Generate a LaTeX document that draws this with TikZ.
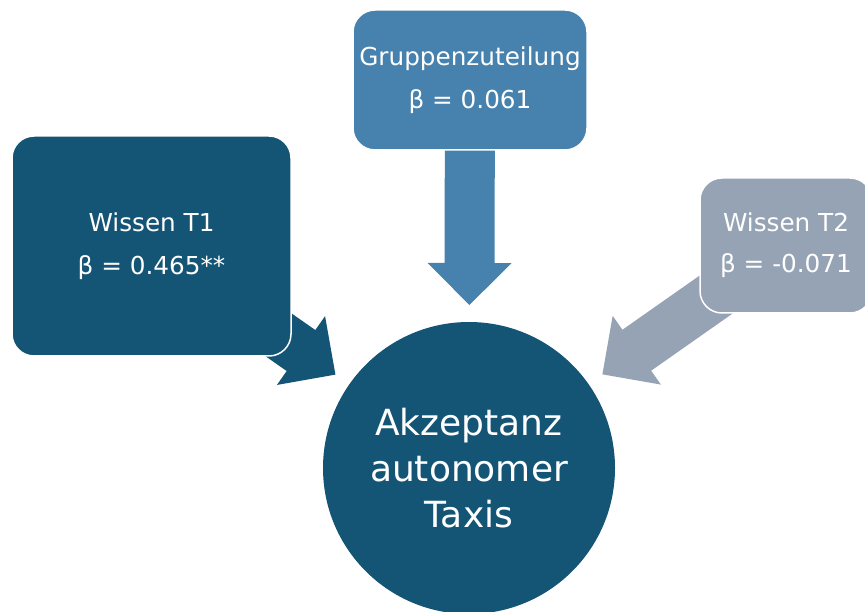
\documentclass[tikz,border=0pt]{standalone}
\usepackage{fontspec}
\setmainfont{DejaVu Sans}
\usetikzlibrary{calc,backgrounds}

\definecolor{deepteal}{HTML}{145475}
\definecolor{midblue}{HTML}{4682AD}
\definecolor{greyblue}{HTML}{95A3B4}

\tikzset{
  factor/.style={rectangle, rounded corners=22pt, draw=white, line width=1.5pt,
    text=white, align=center, inner sep=0pt,
    font=\fontsize{24.7}{43}\selectfont},
  outcome/.style={circle, fill=deepteal, text=white, align=center, inner sep=0pt,
    minimum size=292pt, font=\fontsize{36}{46}\selectfont},
}

% broad block arrow from the centre of #1 towards #2, tip on coordinate #2
\newcommand\blockarrow[3]{%
  \fill[#3] (#2)
    -- ($(#2)!42pt!(#1)!42pt!90:(#2)$)
    -- ($(#2)!42pt!(#1)!25pt!90:(#2)$)
    -- ($(#1)!25pt!90:(#2)$)
    -- ($(#1)!25pt!-90:(#2)$)
    -- ($(#2)!42pt!(#1)!25pt!-90:(#2)$)
    -- ($(#2)!42pt!(#1)!42pt!-90:(#2)$)
    -- cycle;}

\begin{document}
\begin{tikzpicture}[x=1pt, y=-1pt]
  \useasboundingbox (0,0) rectangle (865,612);

  \node[outcome] (acc) at (469,468) {Akzeptanz\\autonomer\\Taxis};

  \node[factor, fill=deepteal, minimum width=279pt, minimum height=220pt]
    (wt1) at (151.5,246) {Wissen T1\\β = 0.465**};
  \node[factor, fill=midblue, minimum width=234pt, minimum height=140pt]
    (grp) at (470,80) {Gruppenzuteilung\\β = 0.061};
  \node[factor, fill=greyblue, minimum width=172pt, minimum height=135pt,
    font=\fontsize{24.7}{41}\selectfont]
    (wt2) at (786,245.5) {Wissen T2\\β = -0.071};

  \coordinate (tipL) at ($(acc.center)!163pt!(wt1.center)$);
  \coordinate (tipT) at ($(acc.center)!163pt!(grp.center)$);
  \coordinate (tipR) at ($(acc.center)!163pt!(wt2.center)$);

  \begin{pgfonlayer}{background}
    \blockarrow{wt1.center}{tipL}{deepteal}
    \blockarrow{grp.center}{tipT}{midblue}
    \blockarrow{wt2.center}{tipR}{greyblue}
  \end{pgfonlayer}
\end{tikzpicture}
\end{document}
